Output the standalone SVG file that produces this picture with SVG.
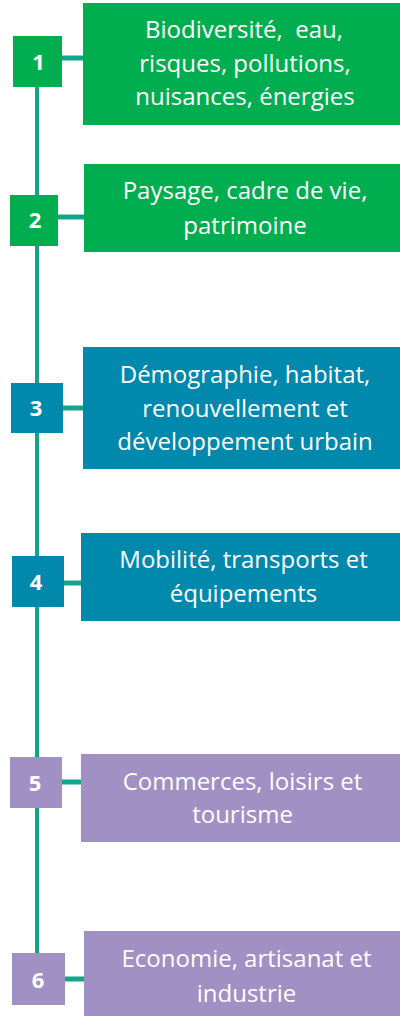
<svg xmlns="http://www.w3.org/2000/svg" width="400" height="1016" viewBox="0 0 400 1016">
<style>
.g{fill:#00AE50}.b{fill:#0088AD}.p{fill:#A190C4}
.t{font-family:"Open Sans","Liberation Sans",sans-serif;font-size:24px;fill:#fff;text-anchor:middle;white-space:pre}
.n{font-family:"Open Sans","Liberation Sans",sans-serif;font-size:22px;font-weight:bold;fill:#fff;text-anchor:middle}
.c{stroke:#13A58B;fill:none}
</style>
<rect width="400" height="1016" fill="#fff"/>
<g id="connectors">
<line class="c" x1="37" y1="80" x2="37" y2="960" stroke-width="4"/>
<line class="c" x1="60" y1="58" x2="85" y2="58" stroke-width="5"/>
<line class="c" x1="56" y1="217" x2="86" y2="217" stroke-width="5"/>
<line class="c" x1="61" y1="408" x2="85" y2="408" stroke-width="5"/>
<line class="c" x1="62" y1="583" x2="83" y2="583" stroke-width="5"/>
<line class="c" x1="60" y1="782" x2="83" y2="782" stroke-width="5"/>
<line class="c" x1="63" y1="979" x2="86" y2="979" stroke-width="5"/>
</g>
<g id="node1">
<rect class="g" x="13" y="36" width="49" height="51"/>
<text class="n" x="38.5" y="70">1</text>
<rect class="g" x="83" y="3" width="317" height="122"/>
<text class="t" x="244" y="38" xml:space="preserve">Biodiversité,  eau,</text>
<text class="t" x="245" y="72">risques, pollutions,</text>
<text class="t" x="245" y="105">nuisances, énergies</text>
</g>
<g id="node2">
<rect class="g" x="10" y="195" width="48" height="51"/>
<text class="n" x="35" y="228">2</text>
<rect class="g" x="84" y="164" width="316" height="88"/>
<text class="t" x="245" y="199">Paysage, cadre de vie,</text>
<text class="t" x="245" y="234">patrimoine</text>
</g>
<g id="node3">
<rect class="b" x="11" y="383" width="52" height="50"/>
<text class="n" x="36" y="416">3</text>
<rect class="b" x="83" y="347" width="317" height="122"/>
<text class="t" x="245" y="383">Démographie, habitat,</text>
<text class="t" x="245" y="417">renouvellement et</text>
<text class="t" x="245" y="450">développement urbain</text>
</g>
<g id="node4">
<rect class="b" x="12" y="556" width="52" height="51"/>
<text class="n" x="36" y="590">4</text>
<rect class="b" x="81" y="533" width="319" height="88"/>
<text class="t" x="243.5" y="568">Mobilité, transports et</text>
<text class="t" x="243.5" y="602">équipements</text>
</g>
<g id="node5">
<rect class="p" x="10" y="757" width="52" height="51"/>
<text class="n" x="35" y="791">5</text>
<rect class="p" x="81" y="754" width="319" height="88"/>
<text class="t" x="242.5" y="790">Commerces, loisirs et</text>
<text class="t" x="242.5" y="823">tourisme</text>
</g>
<g id="node6">
<rect class="p" x="12" y="953" width="53" height="52"/>
<text class="n" x="38" y="988">6</text>
<rect class="p" x="84" y="931" width="316" height="85"/>
<text class="t" x="246.5" y="967">Economie, artisanat et</text>
<text class="t" x="246.5" y="1002">industrie</text>
</g>
</svg>
